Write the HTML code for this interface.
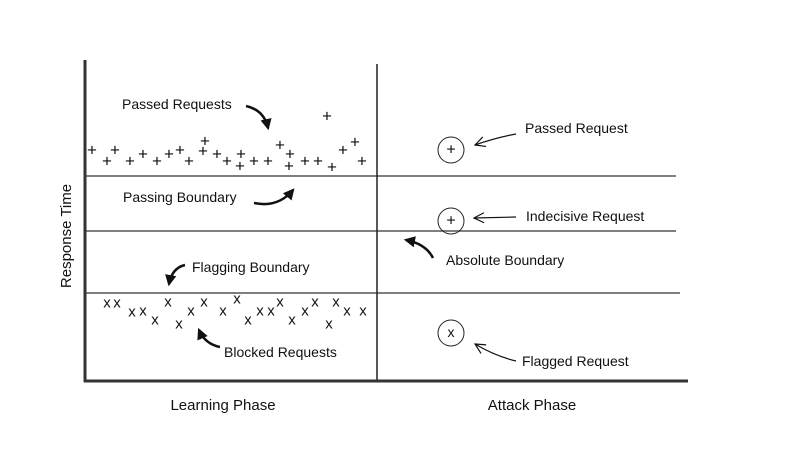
<!DOCTYPE html>
<html><head><meta charset="utf-8"><style>
html,body{margin:0;padding:0;background:#fff;}
svg{display:block;}
text{font-family:"Liberation Sans",sans-serif;fill:#111;}
</style></head><body>
<svg width="800" height="450" viewBox="0 0 800 450" xmlns="http://www.w3.org/2000/svg">
<defs>
<marker id="ah" viewBox="0 0 10 10" refX="8" refY="5" markerWidth="4.5" markerHeight="4.5" orient="auto">
<path d="M0,0 L10,5 L0,10 z" fill="#111"/>
</marker>
<marker id="th" viewBox="0 0 12 12" refX="11" refY="6" markerWidth="12" markerHeight="12" markerUnits="userSpaceOnUse" orient="auto">
<path d="M1,1 L11,6 L1,11" fill="none" stroke="#111" stroke-width="1.2"/>
</marker>
</defs>
<g stroke="#555" stroke-width="1.5">
<line x1="85" y1="176" x2="676" y2="176"/>
<line x1="85" y1="231" x2="676" y2="231"/>
<line x1="85" y1="293" x2="680" y2="293"/>
<line x1="377" y1="64" x2="377" y2="381" stroke="#222"/>
</g>
<line x1="85" y1="60" x2="85" y2="382" stroke="#333" stroke-width="3"/>
<line x1="84" y1="381" x2="688" y2="381" stroke="#333" stroke-width="3"/>

<text x="0" y="0" font-size="15" text-anchor="middle" transform="translate(71,236) rotate(-90)">Response Time</text>
<text x="223" y="410" font-size="15" text-anchor="middle">Learning Phase</text>
<text x="532" y="410" font-size="15" text-anchor="middle">Attack Phase</text>

<g font-size="17" text-anchor="middle" dominant-baseline="central">
<text x="92" y="150">+</text><text x="107" y="161">+</text><text x="115" y="150">+</text>
<text x="130" y="161">+</text><text x="143" y="154">+</text><text x="157" y="161">+</text>
<text x="169" y="154">+</text><text x="180" y="150">+</text><text x="189" y="161">+</text>
<text x="205" y="141">+</text><text x="203" y="151">+</text><text x="217" y="154">+</text>
<text x="227" y="161">+</text><text x="241" y="154">+</text><text x="240" y="166">+</text>
<text x="254" y="161">+</text><text x="268" y="161">+</text><text x="280" y="145">+</text>
<text x="290" y="154">+</text><text x="289" y="166">+</text><text x="305" y="161">+</text>
<text x="318" y="161">+</text><text x="332" y="167">+</text><text x="343" y="150">+</text>
<text x="355" y="142">+</text><text x="362" y="161">+</text><text x="327" y="116">+</text>
</g>
<g font-size="15" text-anchor="middle" dominant-baseline="central">
<text x="107" y="303">x</text><text x="117" y="303">x</text><text x="132" y="312">x</text>
<text x="143" y="311">x</text><text x="155" y="320">x</text><text x="168" y="302">x</text>
<text x="179" y="324">x</text><text x="191" y="311">x</text><text x="204" y="302">x</text>
<text x="223" y="311">x</text><text x="237" y="299">x</text><text x="248" y="320">x</text>
<text x="260" y="311">x</text><text x="271" y="311">x</text><text x="280" y="302">x</text>
<text x="292" y="320">x</text><text x="305" y="311">x</text><text x="315" y="302">x</text>
<text x="329" y="324">x</text><text x="336" y="302">x</text><text x="347" y="311">x</text>
<text x="363" y="311">x</text>
</g>

<g font-size="14">
<text x="122" y="109">Passed Requests</text>
<text x="123" y="202">Passing Boundary</text>
<text x="192" y="272">Flagging Boundary</text>
<text x="224" y="357">Blocked Requests</text>
<text x="525" y="133">Passed Request</text>
<text x="526" y="221">Indecisive Request</text>
<text x="446" y="265">Absolute Boundary</text>
<text x="522" y="366">Flagged Request</text>
</g>

<g fill="none" stroke="#111" stroke-width="2.5" marker-end="url(#ah)">
<path d="M246,106 Q264,110 268,128"/>
<path d="M254,203 Q278,208 293,190"/>
<path d="M185,265 Q172,268 169,284"/>
<path d="M220,347 Q205,344 199,330"/>
<path d="M433,258 Q426,244 406,240"/>
</g>
<g fill="none" stroke="#111" stroke-width="1.2" marker-end="url(#th)">
<path d="M516,134 Q495,138 475,145"/>
<path d="M516,217 L474,218"/>
<path d="M516,361 Q495,356 475,344"/>
</g>

<g fill="none" stroke="#222" stroke-width="1">
<circle cx="451" cy="150" r="13"/>
<circle cx="451" cy="221" r="13"/>
<circle cx="451" cy="333" r="13"/>
</g>
<g font-size="16" text-anchor="middle" dominant-baseline="central">
<text x="451" y="150">+</text><text x="451" y="221">+</text>
<text x="451" y="332" font-size="14">x</text>
</g>
</svg>
</body></html>
